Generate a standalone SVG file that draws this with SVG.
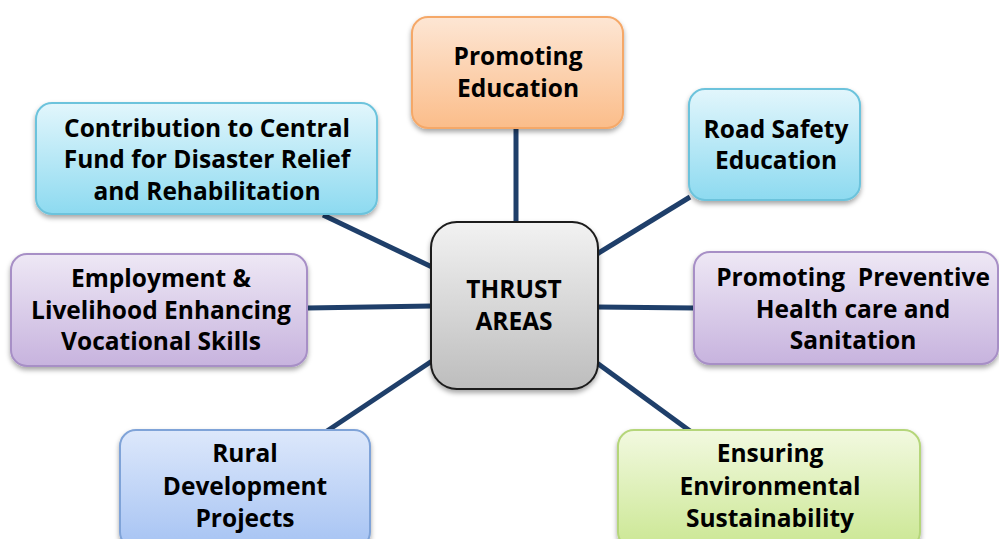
<svg xmlns="http://www.w3.org/2000/svg" width="999" height="539" viewBox="0 0 999 539">
<style>
  .t { font-family: "Open Sans", "Liberation Sans", sans-serif; font-weight: bold; font-size: 24.5px; fill: #000; text-anchor: middle; }
  .box { stroke-width: 2; filter: url(#sh); }
  .c { stroke: #1f3f6a; stroke-width: 5; fill: none; }
</style>
<defs>
  <filter id="sh" x="-10%" y="-10%" width="120%" height="130%">
    <feDropShadow dx="0" dy="3" stdDeviation="2.5" flood-color="#000" flood-opacity="0.35"/>
  </filter>
  <linearGradient id="gO" x1="0" y1="0" x2="0" y2="1"><stop offset="0" stop-color="#fde6d4"/><stop offset="1" stop-color="#fbbd8a"/></linearGradient>
  <linearGradient id="gC" x1="0" y1="0" x2="0" y2="1"><stop offset="0" stop-color="#e2f6fc"/><stop offset="1" stop-color="#8ddaf0"/></linearGradient>
  <linearGradient id="gP" x1="0" y1="0" x2="0" y2="1"><stop offset="0" stop-color="#eee8f5"/><stop offset="1" stop-color="#c7b3de"/></linearGradient>
  <linearGradient id="gB" x1="0" y1="0" x2="0" y2="1"><stop offset="0" stop-color="#dde8fb"/><stop offset="1" stop-color="#a6c3f3"/></linearGradient>
  <linearGradient id="gG" x1="0" y1="0" x2="0" y2="1"><stop offset="0" stop-color="#f2f9e0"/><stop offset="1" stop-color="#cbe793"/></linearGradient>
  <linearGradient id="gK" x1="0" y1="0" x2="0" y2="1"><stop offset="0" stop-color="#f2f2f2"/><stop offset="1" stop-color="#bdbdbd"/></linearGradient>
</defs>
<rect width="999" height="539" fill="#fff"/>
<g id="connectors">
  <line class="c" x1="516" y1="128" x2="516" y2="223"/>
  <line class="c" x1="690" y1="197" x2="597" y2="254"/>
  <line class="c" x1="323" y1="215" x2="432" y2="267"/>
  <line class="c" x1="307" y1="308" x2="432" y2="306"/>
  <line class="c" x1="597" y1="307" x2="695" y2="308"/>
  <line class="c" x1="327" y1="431" x2="432" y2="361"/>
  <line class="c" x1="597" y1="363" x2="690" y2="431"/>
</g>
<g id="n-education">
  <rect class="box" x="412" y="17" width="211" height="111" rx="16" fill="url(#gO)" stroke="#f5a868"/>
  <text class="t" x="518" y="65">Promoting</text>
  <text class="t" x="518" y="97">Education</text>
</g>
<g id="n-road">
  <rect class="box" x="689" y="89" width="171" height="111" rx="16" fill="url(#gC)" stroke="#6cc3dc"/>
  <text class="t" x="776" y="138">Road Safety</text>
  <text class="t" x="776" y="169">Education</text>
</g>
<g id="n-fund">
  <rect class="box" x="36" y="103" width="341" height="111" rx="16" fill="url(#gC)" stroke="#6cc3dc"/>
  <text class="t" x="207" y="137">Contribution to Central</text>
  <text class="t" x="207" y="168">Fund for Disaster Relief</text>
  <text class="t" x="207" y="200">and Rehabilitation</text>
</g>
<g id="n-employment">
  <rect class="box" x="11" y="254" width="296" height="112" rx="16" fill="url(#gP)" stroke="#a78fc6"/>
  <text class="t" x="161" y="287">Employment &amp;</text>
  <text class="t" x="161" y="319">Livelihood Enhancing</text>
  <text class="t" x="161" y="350">Vocational Skills</text>
</g>
<g id="n-health">
  <rect class="box" x="694" y="252" width="304" height="112" rx="16" fill="url(#gP)" stroke="#a78fc6"/>
  <text class="t" x="853" y="286" xml:space="preserve">Promoting  Preventive</text>
  <text class="t" x="853" y="318">Health care and</text>
  <text class="t" x="853" y="349">Sanitation</text>
</g>
<g id="n-rural">
  <rect class="box" x="120" y="430" width="250" height="118" rx="16" fill="url(#gB)" stroke="#7fa3d8"/>
  <text class="t" x="245" y="462">Rural</text>
  <text class="t" x="245" y="495">Development</text>
  <text class="t" x="245" y="527">Projects</text>
</g>
<g id="n-env">
  <rect class="box" x="618" y="430" width="302" height="118" rx="16" fill="url(#gG)" stroke="#b5d67a"/>
  <text class="t" x="770" y="462">Ensuring</text>
  <text class="t" x="770" y="495">Environmental</text>
  <text class="t" x="770" y="527">Sustainability</text>
</g>
<g id="n-center">
  <rect class="box" x="431" y="222" width="167" height="167" rx="26" fill="url(#gK)" stroke="#1a1a1a"/>
  <text class="t" x="514" y="298">THRUST</text>
  <text class="t" x="514" y="330">AREAS</text>
</g>
</svg>
